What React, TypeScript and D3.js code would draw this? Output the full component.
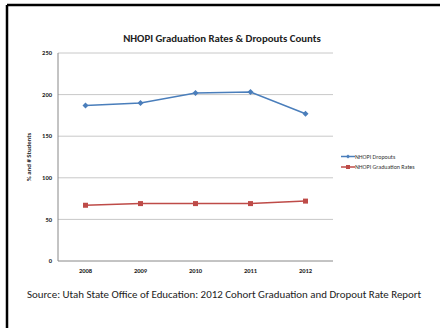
import React from "react";
import * as d3 from "d3";

const years = ["2008", "2009", "2010", "2011", "2012"];
const dropouts = [187, 190, 202, 203, 177];
const gradRates = [67, 69, 69, 69, 72];
const yTicks = [0, 50, 100, 150, 200, 250];

const W = 440;
const H = 328;
const M = { left: 58, right: 333, top: 53, bottom: 261 };

export default function App() {
  const x = d3.scaleBand<string>().domain(years).range([M.left, M.right]);
  const y = d3.scaleLinear().domain([0, 250]).range([M.bottom, M.top]);
  const cx = (d: string) => (x(d) as number) + x.bandwidth() / 2;
  const line = d3
    .line<number>()
    .x((_, i) => cx(years[i]))
    .y((v) => y(v));
  const font = "Carlito, Calibri, 'Liberation Sans', Arial, sans-serif";
  const diamond = (px: number, py: number, r: number) =>
    `M${px},${py - r}L${px + r},${py}L${px},${py + r}L${px - r},${py}Z`;

  return (
    <svg
      width={W}
      height={H}
      style={{ position: "absolute", left: 0, top: 0 }}
      fontFamily={font}
    >
      <rect x={0} y={0} width={W} height={H} fill="#fff" />
      {/* slide border */}
      <line x1={7} y1={5} x2={W} y2={5} stroke="#000" strokeWidth={2.5} />
      <line x1={7} y1={5} x2={7} y2={H} stroke="#000" strokeWidth={2.5} />

      <text
        x={222}
        y={42}
        textAnchor="middle"
        fontSize={10.8}
        fontWeight="bold"
        fill="#222"
      >
        NHOPI Graduation Rates &amp; Dropouts Counts
      </text>

      {yTicks.map((t) => (
        <g key={t}>
          {t > 0 && (
            <line
              x1={M.left}
              x2={M.right}
              y1={y(t)}
              y2={y(t)}
              stroke="#c8c8c8"
              strokeWidth={1}
            />
          )}
          <text
            x={52}
            y={y(t) + 2.2}
            textAnchor="end"
            fontSize={6.5}
            fontWeight="bold"
            fill="#222"
          >
            {t}
          </text>
        </g>
      ))}
      <line x1={M.left} x2={M.left} y1={M.top} y2={M.bottom} stroke="#888" strokeWidth={1} />
      <line x1={M.left} x2={M.right} y1={M.bottom} y2={M.bottom} stroke="#888" strokeWidth={1} />

      {years.map((yr) => (
        <text
          key={yr}
          x={cx(yr)}
          y={273}
          textAnchor="middle"
          fontSize={6.5}
          fontWeight="bold"
          fill="#222"
        >
          {yr}
        </text>
      ))}

      <text
        transform={`translate(31,157) rotate(-90)`}
        textAnchor="middle"
        fontSize={6.8}
        fontWeight="bold"
        fill="#222"
      >
        % and # Students
      </text>

      <path d={line(dropouts) || ""} fill="none" stroke="#4a7ebb" strokeWidth={1.5} />
      {dropouts.map((v, i) => (
        <path key={i} d={diamond(cx(years[i]), y(v), 3)} fill="#4a7ebb" />
      ))}
      <path d={line(gradRates) || ""} fill="none" stroke="#be4b48" strokeWidth={1.5} />
      {gradRates.map((v, i) => (
        <rect
          key={i}
          x={cx(years[i]) - 2.5}
          y={y(v) - 2.5}
          width={5}
          height={5}
          fill="#be4b48"
        />
      ))}

      {/* legend */}
      <g>
        <line x1={341} x2={355} y1={156.5} y2={156.5} stroke="#4a7ebb" strokeWidth={1.5} />
        <path d={diamond(348, 156.5, 2)} fill="#4a7ebb" />
        <text x={355} y={158.6} fontSize={6} fill="#333">
          NHOPI Dropouts
        </text>
        <line x1={341} x2={355} y1={167} y2={167} stroke="#be4b48" strokeWidth={1.5} />
        <rect x={346} y={165} width={4} height={4} fill="#be4b48" />
        <text x={355} y={169.1} fontSize={6} fill="#333">
          NHOPI Graduation Rates
        </text>
      </g>

      <text x={27} y={298} fontSize={10.9} fill="#222">
        Source: Utah State Office of Education: 2012 Cohort Graduation and Dropout Rate Report
      </text>
    </svg>
  );
}
